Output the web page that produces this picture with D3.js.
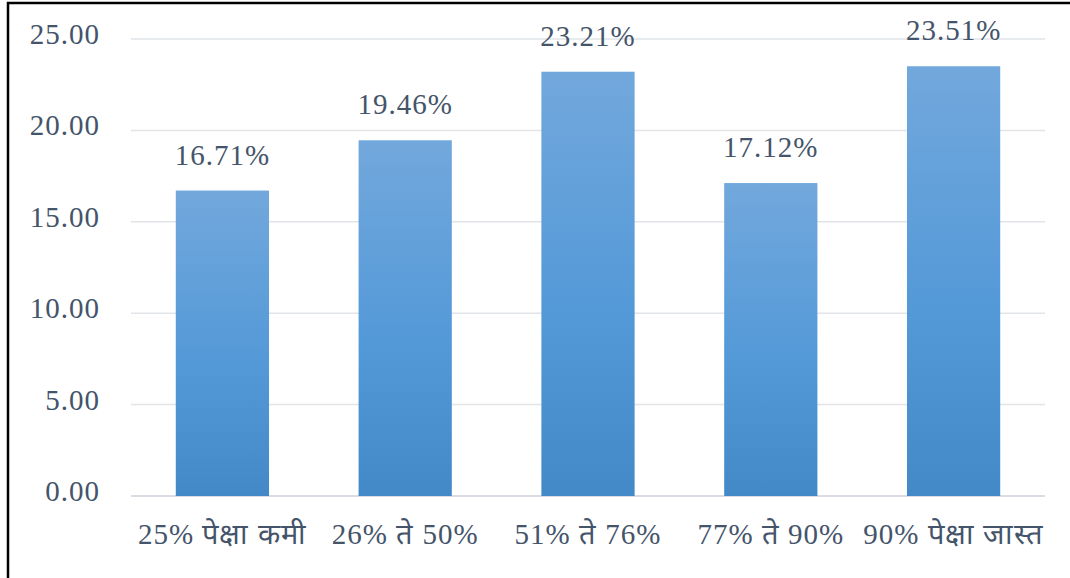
<!DOCTYPE html>
<html>
<head>
<meta charset="utf-8">
<script src="https://cdn.jsdelivr.net/npm/d3@7"></script>
<style>
  body { margin: 0; background: #fff; }
</style>
</head>
<body>
<svg id="chart" width="1070" height="578"></svg>
<script>
var categories = ['25% पेक्षा कमी', '26% ते 50%', '51% ते 76%', '77% ते 90%', '90% पेक्षा जास्त'];
var values = [16.71, 19.46, 23.21, 17.12, 23.51];
var yTicks = [0, 5, 10, 15, 20, 25];

var FONT = '"Liberation Serif", "Times New Roman", serif';
var INK = '#44546a';

var svg = d3.select('#chart');
var margin = {left: 131, right: 25, top: 39, bottom: 82};
var W = 1070, H = 578;

// frame (only left + top edges visible in the reference)
svg.append('rect')
  .attr('x', 8).attr('y', 3)
  .attr('width', 1100).attr('height', 620)
  .attr('fill', 'none').attr('stroke', '#000').attr('stroke-width', 2.5);

var x = d3.scaleBand()
  .domain(categories)
  .range([margin.left, W - margin.right])
  .paddingInner(0.49).paddingOuter(0.245);

var y = d3.scaleLinear()
  .domain([0, 25])
  .range([H - margin.bottom, margin.top]);

var grad = svg.append('defs').append('linearGradient')
  .attr('id', 'barGrad')
  .attr('x1', 0).attr('y1', 0).attr('x2', 0).attr('y2', 1);
grad.append('stop').attr('offset', '0%').attr('stop-color', '#72a8dc');
grad.append('stop').attr('offset', '55%').attr('stop-color', '#5499d8');
grad.append('stop').attr('offset', '100%').attr('stop-color', '#4489c7');

// gridlines
svg.append('g').selectAll('line')
  .data(yTicks)
  .enter().append('line')
  .attr('x1', margin.left).attr('x2', W - margin.right)
  .attr('y1', function (d) { return y(d); })
  .attr('y2', function (d) { return y(d); })
  .attr('stroke', function (d) { return d === 0 ? '#d9dde3' : '#e1e4e8'; })
  .attr('stroke-width', function (d) { return d === 0 ? 2 : 1.5; });

function label(sel) {
  return sel.attr('font-family', FONT)
    .attr('font-size', 29)
    .attr('letter-spacing', 1)
    .attr('fill', INK);
}

// y axis labels
svg.append('g').selectAll('text')
  .data(yTicks)
  .enter().append('text')
  .call(label)
  .attr('x', 100)
  .attr('y', function (d) { return y(d) + 5; })
  .attr('text-anchor', 'end')
  .text(function (d) { return d3.format('.2f')(d); });

// bars
svg.append('g').selectAll('rect')
  .data(values)
  .enter().append('rect')
  .attr('x', function (d, i) { return x(categories[i]); })
  .attr('width', x.bandwidth())
  .attr('y', function (d) { return y(d); })
  .attr('height', function (d) { return y(0) - y(d); })
  .attr('fill', 'url(#barGrad)');

// value labels
svg.append('g').selectAll('text')
  .data(values)
  .enter().append('text')
  .call(label)
  .attr('x', function (d, i) { return x(categories[i]) + x.bandwidth() / 2; })
  .attr('y', function (d) { return y(d) - 26; })
  .attr('text-anchor', 'middle')
  .text(function (d) { return d.toFixed(2) + '%'; });

// category labels
svg.append('g').selectAll('text')
  .data(categories)
  .enter().append('text')
  .call(label)
  .attr('x', function (d) { return x(d) + x.bandwidth() / 2; })
  .attr('y', 544)
  .attr('text-anchor', 'middle')
  .text(function (d) { return d; });
</script>
</body>
</html>
